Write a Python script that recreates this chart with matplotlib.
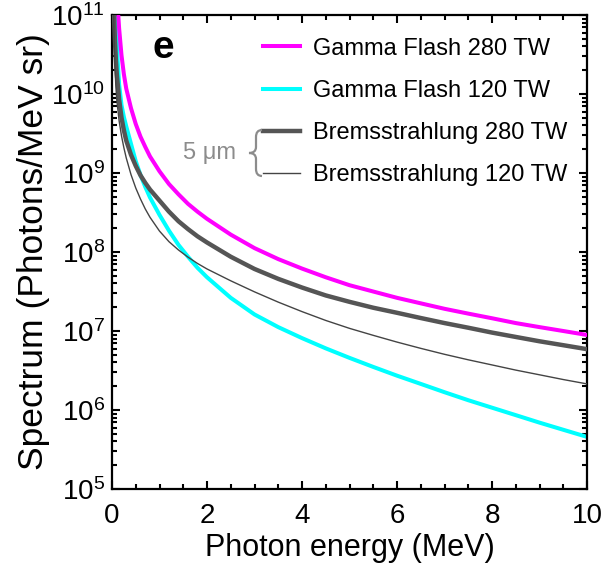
import matplotlib
matplotlib.use("Agg")
import matplotlib.pyplot as plt
from matplotlib.path import Path
from matplotlib.patches import PathPatch
from matplotlib.ticker import LogLocator, MultipleLocator, FixedLocator

plt.rcParams['font.family'] = ['Liberation Sans', 'DejaVu Sans']
plt.rcParams['mathtext.fontset'] = 'custom'
plt.rcParams['mathtext.rm'] = 'Liberation Sans'
plt.rcParams['mathtext.it'] = 'Liberation Sans:italic'

# spectra (photons / MeV sr) vs photon energy (MeV)
e_gf280 = [0.12, 0.15, 0.2, 0.25, 0.3, 0.4, 0.5, 0.6, 0.7, 0.8, 1.0, 1.2, 1.4, 1.6,
           1.8, 2.0, 2.5, 3.0, 3.5, 4.0, 4.5, 5.0, 5.5, 6.0, 6.5, 7.0, 7.5, 8.0,
           8.5, 9.0, 9.5, 10.0]
s_gf280 = [1.29e11, 6.76e10, 3.09e10, 1.78e10, 1.17e10, 6.61e9, 4.17e9, 2.88e9,
           2.14e9, 1.62e9, 1.05e9, 7.24e8, 5.37e8, 4.07e8, 3.24e8, 2.63e8, 1.66e8,
           1.12e8, 8.13e7, 6.17e7, 4.79e7, 3.80e7, 3.16e7, 2.63e7, 2.24e7, 1.91e7,
           1.66e7, 1.45e7, 1.26e7, 1.12e7, 1.0e7, 8.91e6]

e_gf120 = [0.08, 0.1, 0.12, 0.15, 0.2, 0.25, 0.3, 0.4, 0.5, 0.6, 0.7, 0.8, 1.0, 1.2,
           1.4, 1.6, 1.8, 2.0, 2.5, 3.0, 3.5, 4.0, 4.5, 5.0, 5.5, 6.0, 6.5, 7.0,
           7.5, 8.0, 8.5, 9.0, 9.5, 10.0]
s_gf120 = [1.41e11, 5.25e10, 2.63e10, 1.32e10, 7.24e9, 5.13e9, 3.89e9, 2.34e9,
           1.41e9, 9.44e8, 6.68e8, 4.90e8, 2.95e8, 1.86e8, 1.23e8, 8.71e7, 6.31e7,
           4.79e7, 2.63e7, 1.62e7, 1.12e7, 8.13e6, 6.03e6, 4.57e6, 3.51e6, 2.72e6,
           2.14e6, 1.68e6, 1.33e6, 1.07e6, 8.61e5, 6.92e5, 5.62e5, 4.57e5]

e_br280 = [0.04, 0.05, 0.06, 0.08, 0.1, 0.15, 0.2, 0.25, 0.3, 0.4, 0.5, 0.6, 0.7,
           0.8, 1.0, 1.2, 1.4, 1.6, 1.8, 2.0, 2.5, 3.0, 3.5, 4.0, 4.5, 5.0, 5.5,
           6.0, 6.5, 7.0, 7.5, 8.0, 8.5, 9.0, 9.5, 10.0]
s_br280 = [1.23e11, 7.59e10, 5.13e10, 2.82e10, 1.82e10, 8.51e9, 5.01e9, 3.47e9,
           2.57e9, 1.70e9, 1.23e9, 9.33e8, 7.5e8, 6.17e8, 4.47e8, 3.24e8, 2.45e8,
           1.95e8, 1.58e8, 1.32e8, 8.71e7, 6.1e7, 4.57e7, 3.55e7, 2.82e7, 2.34e7,
           1.97e7, 1.70e7, 1.46e7, 1.26e7, 1.10e7, 9.55e6, 8.41e6, 7.41e6, 6.61e6,
           5.89e6]

e_br120 = [0.03, 0.04, 0.05, 0.06, 0.08, 0.1, 0.15, 0.2, 0.25, 0.3, 0.4, 0.5, 0.6,
           0.7, 0.8, 1.0, 1.2, 1.4, 1.6, 1.8, 2.0, 2.5, 3.0, 3.5, 4.0, 4.5, 5.0,
           5.5, 6.0, 6.5, 7.0, 7.5, 8.0, 8.5, 9.0, 9.5, 10.0]
s_br120 = [1.32e11, 6.61e10, 3.80e10, 2.45e10, 1.29e10, 8.51e9, 4.57e9, 2.95e9,
           2.09e9, 1.55e9, 9.55e8, 6.46e8, 4.68e8, 3.51e8, 2.75e8, 1.84e8, 1.35e8,
           1.06e8, 8.61e7, 7.16e7, 6.1e7, 4.32e7, 3.13e7, 2.32e7, 1.76e7, 1.36e7,
           1.08e7, 8.81e6, 7.24e6, 6.03e6, 5.07e6, 4.32e6, 3.72e6, 3.2e6, 2.79e6,
           2.43e6, 2.14e6]

labels = ['Gamma Flash 280 TW', 'Gamma Flash 120 TW',
          'Bremsstrahlung 280 TW', 'Bremsstrahlung 120 TW']
x_ticks = [0, 2, 4, 6, 8, 10]
y_exponents = [5, 6, 7, 8, 9, 10, 11]

fig = plt.figure(figsize=(6.07, 5.71), dpi=100)
ax = fig.add_axes([112 / 607, 82 / 571, 475 / 607, 474 / 571])

ax.plot(e_gf280, s_gf280, color='#ff00ff', lw=2.9, label=labels[0], zorder=3)
ax.plot(e_gf120, s_gf120, color='#00ffff', lw=2.9, label=labels[1], zorder=2)
ax.plot(e_br280, s_br280, color='#555555', lw=3.2, label=labels[2], zorder=3)
ax.plot(e_br120, s_br120, color='#444444', lw=1.0, label=labels[3], zorder=4)

ax.set_yscale('log')
ax.set_xlim(0, 10)
ax.set_ylim(1e5, 1e11)

ax.xaxis.set_major_locator(FixedLocator(x_ticks))
ax.xaxis.set_minor_locator(MultipleLocator(0.5))
ax.set_xticklabels([str(t) for t in x_ticks])
ax.yaxis.set_major_locator(FixedLocator([10.0 ** k for k in y_exponents]))
ax.yaxis.set_minor_locator(LogLocator(base=10, subs=range(2, 10), numticks=20))
ax.set_yticklabels([r'$10^{%d}$' % k for k in y_exponents])

ax.tick_params(which='both', direction='in', top=True, right=True, width=1.5)
ax.tick_params(which='major', length=6)
ax.tick_params(which='minor', length=3.5)
ax.tick_params(axis='x', labelsize=20, pad=10)
ax.tick_params(axis='y', labelsize=20, pad=5)
for sp in ax.spines.values():
    sp.set_linewidth(1.6)

ax.set_xlabel('Photon energy (MeV)', fontsize=22, labelpad=3)
ax.set_ylabel('Spectrum (Photons/MeV sr)', fontsize=25.5, labelpad=1)

ax.text(0.107, 0.93, 'e', transform=ax.transAxes, fontsize=28,
        fontweight='bold', ha='center', va='center')

leg = ax.legend(loc='upper left', bbox_to_anchor=(0.318, 0.952), frameon=False,
                fontsize=17, handlelength=1.55, handletextpad=0.55,
                labelspacing=0.85, borderpad=0, borderaxespad=0)

# "5 um" bracket grouping the two bremsstrahlung entries
brace_color = '#8c8c8c'
fig.text(183 / 607, 1 - 153 / 571, '5 μm', fontsize=17, color=brace_color,
         ha='left', va='center')
px = [(262, 130), (256, 130), (256, 137), (256, 147), (256, 153), (249, 153),
      (256, 153), (256, 159), (256, 169), (256, 176), (262, 176)]
codes = [Path.MOVETO, Path.CURVE3, Path.CURVE3, Path.LINETO, Path.CURVE3, Path.CURVE3,
         Path.CURVE3, Path.CURVE3, Path.LINETO, Path.CURVE3, Path.CURVE3]
verts = [(x / 607, 1 - y / 571) for x, y in px]
brace = PathPatch(Path(verts, codes), facecolor='none', edgecolor=brace_color,
                  lw=1.6, transform=fig.transFigure)
fig.patches.append(brace)

fig.savefig('out.png', dpi=100)
